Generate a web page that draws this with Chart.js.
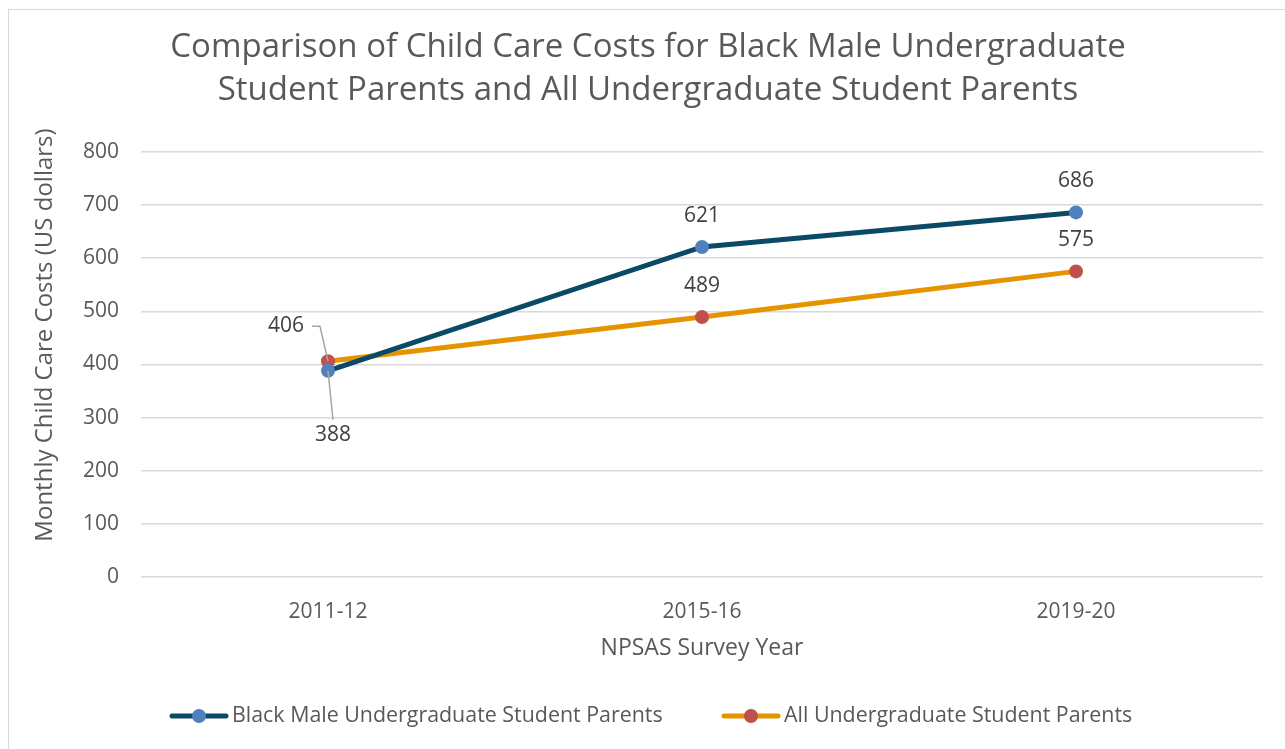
<!DOCTYPE html>
<html>
<head>
<meta charset="utf-8">
<script src="https://cdn.jsdelivr.net/npm/chart.js@4"></script>
<style>
    html, body { margin: 0; padding: 0; background: #fff; }
    #wrap { position: absolute; left: 0; top: 0; width: 1285px; height: 749px; }
    #frame { position: absolute; left: 8px; top: 9px; width: 1290px; height: 760px; border: 1.5px solid #d9d9d9; box-sizing: border-box; }
</style>
</head>
<body>
<div id="wrap">
    <div id="frame"></div>
    <canvas id="mainChart" width="1285" height="749"></canvas>
</div>
<script>
/* =========================
   DATOS
========================= */
const years = ["2011-12", "2015-16", "2019-20"];
const blackMaleCosts = [388, 621, 686];
const allParentCosts = [406, 489, 575];
const yTicks = [0, 100, 200, 300, 400, 500, 600, 700, 800];

const seriesNames = [
    "Black Male Undergraduate Student Parents",
    "All Undergraduate Student Parents"
];

const yAxisTitle = "Monthly Child Care Costs (US dollars)";

const TEXT_COLOR = "#595959";
const FONT = "'Open Sans', 'Noto Sans', sans-serif";

/* =========================
   ETIQUETAS DE DATOS
========================= */
// offsets por serie / punto: [dx, dy, leader]
const labelOffsets = [
    [[5, 64, true], [0, -31], [0, -31]],
    [[-42, -35, true], [0, -31], [0, -31]]
];

const dataLabelPlugin = {
    id: "dataLabels",
    afterDatasetsDraw(chart) {
        const ctx = chart.ctx;
        ctx.save();
        ctx.font = "21px " + FONT;
        ctx.fillStyle = "#404040";
        ctx.textAlign = "center";
        ctx.textBaseline = "middle";

        chart.data.datasets.forEach((ds, i) => {
            const meta = chart.getDatasetMeta(i);
            meta.data.forEach((pt, j) => {
                const off = labelOffsets[i][j];
                const lx = pt.x + off[0];
                const ly = pt.y + off[1];

                if (off[2]) {
                    ctx.strokeStyle = "#a6a6a6";
                    ctx.lineWidth = 1.5;
                    ctx.beginPath();
                    if (off[1] > 0) {
                        ctx.moveTo(pt.x, pt.y);
                        ctx.lineTo(lx, ly - 15);
                    } else {
                        ctx.moveTo(pt.x, pt.y);
                        ctx.lineTo(pt.x - 8, ly);
                        ctx.lineTo(lx + 26, ly);
                    }
                    ctx.stroke();
                }

                ctx.fillText(String(ds.data[j]), lx, ly);
            });
        });
        ctx.restore();
    }
};

/* =========================
   TITULO EJE Y + LEYENDA
========================= */
const legendPlugin = {
    id: "customLegend",
    afterDraw(chart) {
        const ctx = chart.ctx;
        const y = 716;
        const starts = [172, 724];

        ctx.save();

        /* titulo del eje y */
        ctx.translate(45, 335);
        ctx.rotate(-Math.PI / 2);
        ctx.font = "24px " + FONT;
        ctx.fillStyle = TEXT_COLOR;
        ctx.textAlign = "center";
        ctx.textBaseline = "middle";
        ctx.fillText(yAxisTitle, 0, 0);
        ctx.setTransform(1, 0, 0, 1, 0, 0);

        ctx.font = "21.4px " + FONT;
        ctx.textBaseline = "middle";
        ctx.textAlign = "left";

        chart.data.datasets.forEach((ds, i) => {
            const x = starts[i];

            ctx.strokeStyle = ds.borderColor;
            ctx.lineWidth = 5;
            ctx.lineCap = "round";
            ctx.beginPath();
            ctx.moveTo(x, y);
            ctx.lineTo(x + 54, y);
            ctx.stroke();

            ctx.fillStyle = ds.pointBackgroundColor;
            ctx.beginPath();
            ctx.arc(x + 27, y, 7, 0, Math.PI * 2);
            ctx.fill();

            ctx.fillStyle = TEXT_COLOR;
            ctx.fillText(ds.label, x + 60, y);
        });
        ctx.restore();
    }
};

/* =========================
   GRAFICO
========================= */
const ctx = document.getElementById("mainChart").getContext("2d");

new Chart(ctx, {
    type: "line",
    data: {
        labels: years,
        datasets: [
            {
                label: seriesNames[0],
                data: blackMaleCosts,
                borderColor: "#0b4a66",
                borderWidth: 5,
                pointBackgroundColor: "#4f81bd",
                pointBorderColor: "#4f81bd",
                pointRadius: 7,
                pointBorderWidth: 0,
                tension: 0
            },
            {
                label: seriesNames[1],
                data: allParentCosts,
                borderColor: "#e59400",
                borderWidth: 5,
                pointBackgroundColor: "#c0504d",
                pointBorderColor: "#c0504d",
                pointRadius: 7,
                pointBorderWidth: 0,
                tension: 0
            }
        ]
    },
    options: {
        responsive: false,
        animation: false,
        layout: {
            padding: { left: 33, right: 22, top: 26, bottom: 83 }
        },
        plugins: {
            legend: { display: false },
            tooltip: { enabled: false },
            title: {
                display: true,
                text: [
                    "Comparison of Child Care Costs for Black Male Undergraduate",
                    "Student Parents and All Undergraduate Student Parents"
                ],
                color: TEXT_COLOR,
                font: { family: FONT, size: 33, weight: "normal", lineHeight: 1.3 },
                padding: { top: 0, bottom: 40 }
            }
        },
        scales: {
            x: {
                offset: true,
                grid: { display: false },
                border: { display: false },
                ticks: {
                    color: TEXT_COLOR,
                    font: { family: FONT, size: 21 },
                    padding: 14
                },
                title: {
                    display: true,
                    text: "NPSAS Survey Year",
                    color: TEXT_COLOR,
                    font: { family: FONT, size: 23 },
                    padding: { top: 2 }
                },
                afterFit(scale) {
                    scale.height = 89;
                }
            },
            y: {
                min: 0,
                max: 800,
                afterBuildTicks(scale) {
                    scale.ticks = yTicks.map(v => ({ value: v }));
                },
                grid: { color: "#d9d9d9", lineWidth: 1.5, drawTicks: false },
                border: { display: false },
                ticks: {
                    color: TEXT_COLOR,
                    font: { family: FONT, size: 21 },
                    padding: 22
                },
                afterFit(scale) {
                    scale.width = 108;
                }
            }
        }
    },
    plugins: [dataLabelPlugin, legendPlugin]
});
</script>
</body>
</html>
